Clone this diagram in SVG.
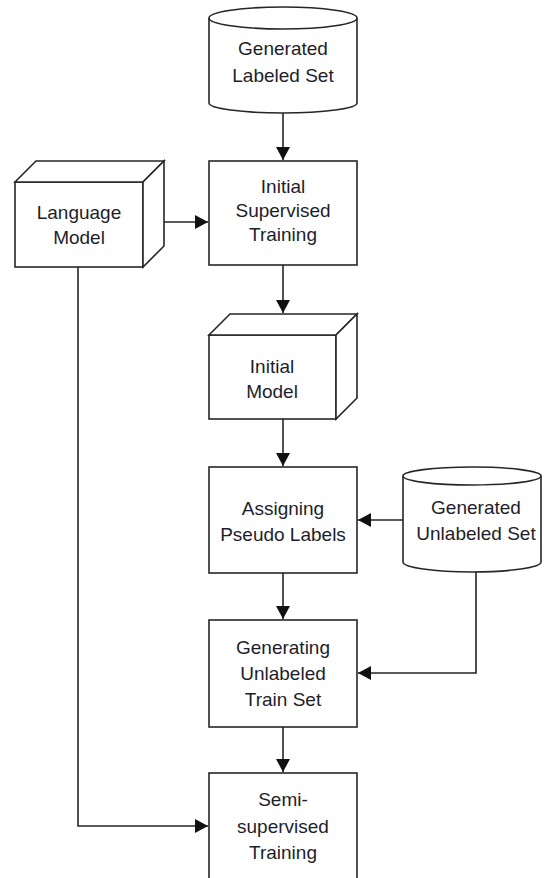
<svg xmlns="http://www.w3.org/2000/svg" width="544" height="878" viewBox="0 0 544 878">
<style>
.s{fill:#fff;stroke:#262626;stroke-width:1.6}
.c{fill:none;stroke:#262626;stroke-width:1.6}
text{font-family:"Liberation Sans",Arial,sans-serif;font-size:19px;fill:#1e1e2a;text-anchor:middle}
</style>
<defs>
<marker id="ah" markerUnits="userSpaceOnUse" markerWidth="14" markerHeight="14" refX="13" refY="7" orient="auto">
<path d="M0,0 L13,7 L0,14 Z" fill="#111"/>
</marker>
</defs>
<rect width="544" height="878" fill="#fff"/>
<g id="connectors">
<path class="c" d="M283,113 L283,160" marker-end="url(#ah)"/>
<path class="c" d="M143,222 L208,222" marker-end="url(#ah)"/>
<path class="c" d="M283,265 L283,313" marker-end="url(#ah)"/>
<path class="c" d="M283,419 L283,466" marker-end="url(#ah)"/>
<path class="c" d="M403,520 L358,520" marker-end="url(#ah)"/>
<path class="c" d="M283,573 L283,619" marker-end="url(#ah)"/>
<path class="c" d="M476,572 L476,673 L358,673" marker-end="url(#ah)"/>
<path class="c" d="M283,727 L283,772" marker-end="url(#ah)"/>
<path class="c" d="M78,267 L78,826 L208,826" marker-end="url(#ah)"/>
</g>
<g id="generated-labeled-set">
<path class="s" d="M209,18 L209,103 A74,10 0 0 0 357,103 L357,18"/>
<ellipse class="s" cx="283" cy="18" rx="74" ry="11"/>
<text x="283" y="55">Generated</text>
<text x="283" y="82">Labeled Set</text>
</g>
<g id="language-model">
<rect class="s" x="15" y="182" width="128" height="85"/>
<polygon class="s" points="15,182 36,161 164,161 143,182"/>
<polygon class="s" points="143,182 164,161 164,246 143,267"/>
<text x="79" y="219">Language</text>
<text x="79" y="244">Model</text>
</g>
<g id="initial-supervised-training">
<rect class="s" x="209" y="161" width="148" height="104"/>
<text x="283" y="193">Initial</text>
<text x="283" y="217">Supervised</text>
<text x="283" y="241">Training</text>
</g>
<g id="initial-model">
<rect class="s" x="209" y="335" width="127" height="84"/>
<polygon class="s" points="209,335 230,314 357,314 336,335"/>
<polygon class="s" points="336,335 357,314 357,398 336,419"/>
<text x="272" y="373">Initial</text>
<text x="272" y="398">Model</text>
</g>
<g id="assigning-pseudo-labels">
<rect class="s" x="209" y="467" width="148" height="106"/>
<text x="283" y="515">Assigning</text>
<text x="283" y="541">Pseudo Labels</text>
</g>
<g id="generated-unlabeled-set">
<path class="s" d="M403,476 L403,562 A69,10 0 0 0 541,562 L541,476"/>
<ellipse class="s" cx="472" cy="476" rx="69" ry="9"/>
<text x="476" y="514">Generated</text>
<text x="476" y="540">Unlabeled Set</text>
</g>
<g id="generating-unlabeled-train-set">
<rect class="s" x="209" y="620" width="148" height="107"/>
<text x="283" y="654">Generating</text>
<text x="283" y="680">Unlabeled</text>
<text x="283" y="706">Train Set</text>
</g>
<g id="semi-supervised-training">
<rect class="s" x="209" y="773" width="148" height="120"/>
<text x="283" y="806">Semi-</text>
<text x="283" y="833">supervised</text>
<text x="283" y="859">Training</text>
</g>
</svg>
